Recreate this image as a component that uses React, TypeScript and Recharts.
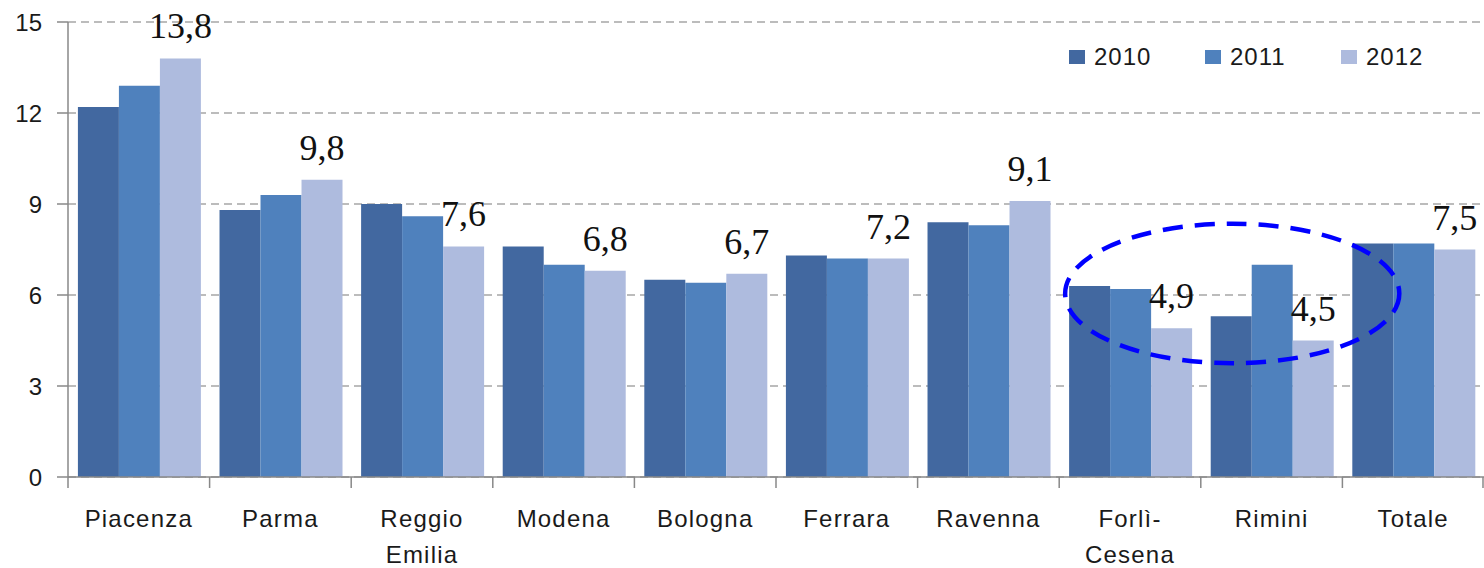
import React from "react";
import { BarChart, Bar, XAxis, YAxis, CartesianGrid, LabelList, ReferenceArea } from "recharts";

const categories = ["Piacenza", "Parma", "Reggio Emilia", "Modena", "Bologna", "Ferrara", "Ravenna", "Forlì-Cesena", "Rimini", "Totale"];
const tickLabels = [["Piacenza"], ["Parma"], ["Reggio", "Emilia"], ["Modena"], ["Bologna"], ["Ferrara"], ["Ravenna"], ["Forlì-", "Cesena"], ["Rimini"], ["Totale"]];
const values2010 = [12.2, 8.8, 9.0, 7.6, 6.5, 7.3, 8.4, 6.3, 5.3, 7.7];
const values2011 = [12.9, 9.3, 8.6, 7.0, 6.4, 7.2, 8.3, 6.2, 7.0, 7.7];
const values2012 = [13.8, 9.8, 7.6, 6.8, 6.7, 7.2, 9.1, 4.9, 4.5, 7.5];
const yTicks = [0, 3, 6, 9, 12, 15];
const seriesNames = ["2010", "2011", "2012"];
const seriesColors = ["#4268A0", "#4F81BD", "#AEBBDE"];
const highlightFrom = "Forlì-Cesena";
const highlightTo = "Rimini";
const highlightRange = [3.75, 8.35];

const data = categories.map((c, i) => ({
  name: c,
  "2010": values2010[i],
  "2011": values2011[i],
  "2012": values2012[i],
}));

const W = 1484;
const H = 568;
const M = { top: 22, right: 0, left: 0, bottom: 0 };
const Y_W = 68;
const X_H = 91;
const BAND = (W - M.left - M.right - Y_W) / categories.length;

const SANS = "'Liberation Sans', Arial, sans-serif";
const SERIF = "'Liberation Serif', 'Times New Roman', serif";

const XTick = (props: any) => {
  const { x, y, index } = props;
  const lines = tickLabels[index] || [String(props.payload?.value)];
  return (
    <g>
      <line x1={x - BAND / 2} x2={x - BAND / 2} y1={y} y2={y + 11} stroke="#888" strokeWidth={1.5} />
      {index === categories.length - 1 && (
        <line x1={x + BAND / 2 - 1} x2={x + BAND / 2 - 1} y1={y} y2={y + 11} stroke="#888" strokeWidth={1.5} />
      )}
      <text x={x} y={y + 50} textAnchor="middle" fontFamily={SANS} fontSize={24} fill="#1a1a1a" letterSpacing={1.2}>
        {lines.map((l: string, i: number) => (
          <tspan key={i} x={x} dy={i === 0 ? 0 : 36}>{l}</tspan>
        ))}
      </text>
    </g>
  );
};

const EllipseShape = (p: any) => {
  const { x, y, width, height } = p;
  return (
    <ellipse
      cx={x + width * 0.611}
      cy={y + height / 2}
      rx={width * 0.59}
      ry={height / 2}
      fill="none"
      stroke="#0000FF"
      strokeWidth={4.5}
      strokeDasharray="20 12"
    />
  );
};

export default function App() {
  const refAreaProps: any = { zIndex: 2000 };
  return (
    <div style={{ position: "absolute", left: 0, top: 0, width: W, height: H, background: "#fff" }}>
      <BarChart width={W} height={H} data={data} margin={M} barCategoryGap="7%" barGap={0}>
        <CartesianGrid vertical={false} stroke="#A6A6A6" strokeDasharray="8 5" strokeWidth={1.5} />
        <XAxis
          dataKey="name"
          height={X_H}
          interval={0}
          tickLine={false}
          tickSize={0}
          tickMargin={0}
          tick={<XTick />}
          axisLine={{ stroke: "#888", strokeWidth: 1.5 }}
        />
        <YAxis
          width={Y_W}
          domain={[0, 15]}
          ticks={yTicks}
          tickSize={11}
          tickMargin={15}
          axisLine={{ stroke: "#888", strokeWidth: 1.5 }}
          tickLine={{ stroke: "#888", strokeWidth: 1.5 }}
          tick={{ fontFamily: SANS, fontSize: 24, fill: "#1a1a1a" }}
        />
        {seriesNames.map((n, i) => (
          <Bar key={n} dataKey={n} fill={seriesColors[i]} isAnimationActive={false}>
            {i === 2 && (
              <LabelList dataKey={n} position="top" offset={20} formatter={(v: any) => String(Number(v).toFixed(1)).replace(".", ",")}
                style={{ fontFamily: SERIF, fontSize: 36, fill: "#111" }} />
            )}
          </Bar>
        ))}
        <ReferenceArea
          x1={highlightFrom}
          x2={highlightTo}
          y1={highlightRange[0]}
          y2={highlightRange[1]}
          shape={<EllipseShape />}
          ifOverflow="visible"
          {...refAreaProps}
        />
      </BarChart>
      <div style={{ position: "absolute", left: 1069, top: 43, height: 28, display: "flex", alignItems: "center", fontFamily: SANS, fontSize: 24, color: "#1a1a1a" }}>
        {seriesNames.map((n, i) => (
          <div key={n} style={{ display: "flex", alignItems: "center", width: 136 }}>
            <span style={{ display: "inline-block", width: 16, height: 14, background: seriesColors[i], marginRight: 9 }} />
            <span style={{ letterSpacing: 1 }}>{n}</span>
          </div>
        ))}
      </div>
    </div>
  );
}
